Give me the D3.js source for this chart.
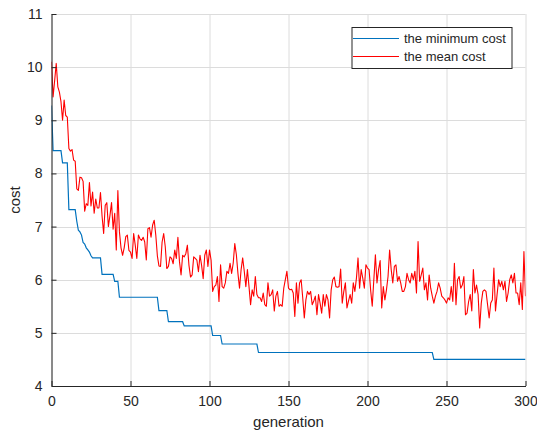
<!DOCTYPE html>
<html>
<head>
<meta charset="utf-8">
<script src="https://cdn.jsdelivr.net/npm/d3@7"></script>
<style>
  body { margin: 0; background: #fff; }
  svg { display: block; font-family: "Liberation Sans", Arial, Helvetica, sans-serif; }
  .grid line { stroke: #dcdcdc; stroke-width: 1; }
  .axis path, .axis line { stroke: #262626; }
  .axis text { fill: #262626; font-size: 14px; }
</style>
</head>
<body>
<svg id="chart" width="537" height="436"></svg>
<script>
// minimum cost: generation / value at each step of the staircase
var minGen  = [0, 1, 6, 7, 10, 11, 15, 16, 17, 18, 19, 20, 21, 22, 23, 24, 25, 26, 31, 32, 39, 40, 42, 43, 67, 68, 73, 74, 83, 84, 101, 102, 107, 108, 130, 131, 241, 242, 300];
var minCost = [9.28, 8.43, 8.43, 8.20, 8.20, 7.32, 7.32, 7.10, 6.93, 6.90, 6.84, 6.70, 6.67, 6.60, 6.56, 6.52, 6.45, 6.41, 6.41, 6.10, 6.10, 5.97, 5.97, 5.67, 5.67, 5.42, 5.42, 5.21, 5.21, 5.13, 5.13, 4.95, 4.95, 4.79, 4.79, 4.63, 4.63, 4.50, 4.50];

// mean cost, one value per generation 0..300
var meanCost = [
  10.10, 9.44, 9.75, 10.07, 9.63, 9.53, 9.35, 9.00, 9.38, 9.09,
  9.06, 8.47, 8.42, 8.45, 8.25, 8.23, 7.71, 7.68, 7.93, 7.92,
  7.85, 7.29, 7.43, 7.40, 7.83, 7.39, 7.65, 7.25, 7.52, 7.35,
  7.35, 7.64, 7.20, 6.87, 7.40, 7.45, 7.00, 7.21, 7.45, 6.95,
  7.25, 6.56, 7.68, 6.90, 6.60, 6.46, 6.60, 6.81, 6.84, 6.55,
  6.52, 6.40, 6.87, 6.65, 6.40, 6.84, 6.77, 6.74, 6.80, 6.71,
  6.37, 6.96, 6.98, 6.80, 7.03, 7.12, 6.84, 6.45, 6.26, 6.25,
  6.71, 6.87, 6.62, 6.21, 6.25, 6.43, 6.40, 6.30, 6.56, 6.40,
  6.80, 6.34, 6.09, 6.46, 6.43, 6.49, 6.65, 6.27, 6.05, 6.09,
  6.43, 6.40, 6.37, 6.15, 6.46, 6.27, 6.02, 6.46, 6.56, 6.25,
  6.56, 6.37, 5.78, 5.87, 5.90, 6.06, 5.59, 6.28, 5.87, 5.84,
  5.94, 6.16, 6.12, 6.31, 6.12, 6.31, 6.68, 6.47, 6.12, 5.84,
  6.19, 6.41, 6.16, 5.87, 6.19, 5.87, 5.53, 5.81, 5.69, 6.06,
  5.72, 5.66, 5.66, 5.59, 5.75, 5.53, 5.50, 5.94, 5.69, 5.72,
  5.81, 5.41, 5.69, 5.78, 5.50, 5.53, 5.50, 5.84, 6.00, 6.16,
  5.84, 5.81, 5.82, 5.75, 5.31, 5.94, 5.56, 5.94, 6.00, 5.66,
  5.28, 5.62, 5.78, 5.72, 5.78, 5.53, 5.60, 5.69, 5.34, 5.72,
  5.56, 5.37, 5.72, 5.50, 5.72, 5.62, 5.28, 5.81, 6.00, 6.05,
  5.87, 5.86, 5.87, 6.20, 5.56, 5.78, 5.94, 5.47, 5.60, 5.72,
  5.56, 5.94, 5.78, 6.03, 6.41, 5.84, 6.19, 6.03, 5.84, 6.28,
  6.22, 6.19, 5.80, 5.50, 6.00, 6.47, 5.94, 6.19, 6.36, 5.47,
  5.87, 5.62, 5.81, 6.06, 6.56, 6.19, 5.94, 6.25, 6.28, 5.97,
  6.06, 5.94, 5.78, 5.78, 5.87, 6.12, 6.00, 5.94, 6.12, 6.00,
  6.16, 5.75, 6.72, 5.97, 6.09, 6.22, 5.81, 5.94, 5.62, 6.09,
  5.84, 5.69, 5.56, 5.69, 5.78, 5.94, 5.84, 5.69, 5.66, 5.62,
  5.56, 5.66, 5.62, 5.87, 5.59, 6.31, 5.53, 6.00, 6.06, 5.84,
  5.90, 6.06, 5.34, 5.37, 5.59, 5.72, 5.41, 6.19, 5.75, 5.90,
  5.72, 5.09, 5.56, 5.78, 5.81, 5.78, 5.53, 5.28, 5.56, 5.62,
  6.22, 5.41, 5.72, 6.00, 5.87, 5.97, 5.81, 5.97, 5.59, 5.75,
  6.00, 6.09, 5.94, 6.12, 5.75, 5.75, 5.53, 5.94, 5.44, 6.53,
  5.69
];

var xTicks = [0, 50, 100, 150, 200, 250, 300];
var yTicks = [4, 5, 6, 7, 8, 9, 10, 11];
var seriesNames = ["the minimum cost", "the mean cost"];
var seriesColors = ["#0072BD", "#FF0000"];

var svg = d3.select("#chart"),
    margin = {top: 14, right: 11.5, bottom: 50, left: 51.5},
    width = 537 - margin.left - margin.right,
    height = 436 - margin.top - margin.bottom,
    g = svg.append("g").attr("transform", "translate(" + margin.left + "," + margin.top + ")");

var x = d3.scaleLinear().domain([0, 300]).range([0, width]),
    y = d3.scaleLinear().domain([4, 11]).range([height, 0]);

// grid
g.append("g").attr("class", "grid")
  .selectAll("line.gx").data(xTicks).enter().append("line")
    .attr("x1", function(d) { return Math.round(x(d)) + 0.5; })
    .attr("x2", function(d) { return Math.round(x(d)) + 0.5; })
    .attr("y1", 0).attr("y2", height);
g.select(".grid")
  .selectAll("line.gy").data(yTicks).enter().append("line")
    .attr("y1", function(d) { return Math.round(y(d)) + 0.5; })
    .attr("y2", function(d) { return Math.round(y(d)) + 0.5; })
    .attr("x1", 0).attr("x2", width);

svg.append("clipPath").attr("id", "clip")
  .append("rect").attr("width", width).attr("height", height);

var plot = g.append("g").attr("clip-path", "url(#clip)");

var line = d3.line()
  .x(function(d) { return x(d[0]); })
  .y(function(d) { return y(d[1]); });

plot.append("path")
  .datum(minGen.map(function(gen, i) { return [gen, minCost[i]]; }))
  .attr("fill", "none")
  .attr("stroke", seriesColors[0])
  .attr("stroke-width", 1.2)
  .attr("d", line);

plot.append("path")
  .datum(meanCost.map(function(v, i) { return [i, v]; }))
  .attr("fill", "none")
  .attr("stroke", seriesColors[1])
  .attr("stroke-width", 1.1)
  .attr("stroke-linejoin", "round")
  .attr("d", line);

// axes, ticks pointing inward like matlab
g.append("g")
  .attr("class", "axis")
  .attr("transform", "translate(0," + height + ")")
  .call(d3.axisBottom(x).tickValues(xTicks).tickFormat(d3.format("d"))
    .tickSizeInner(-5).tickSizeOuter(0).tickPadding(10));
g.append("g")
  .attr("class", "axis")
  .call(d3.axisLeft(y).tickValues(yTicks).tickFormat(d3.format("d"))
    .tickSizeInner(-5).tickSizeOuter(0).tickPadding(9));

svg.append("text")
  .attr("x", margin.left + width / 2)
  .attr("y", 427)
  .attr("text-anchor", "middle")
  .style("font-size", "15px")
  .style("fill", "#262626")
  .text("generation");

svg.append("text")
  .attr("transform", "translate(20," + (margin.top + height / 2) + ") rotate(-90)")
  .attr("text-anchor", "middle")
  .style("font-size", "15px")
  .style("fill", "#262626")
  .text("cost");

// legend
var legend = svg.append("g").attr("transform", "translate(352,27.5)");
legend.append("rect")
  .attr("width", 160).attr("height", 41)
  .attr("fill", "#fff").attr("stroke", "#262626").attr("stroke-width", 1);
var item = legend.selectAll(".legend").data(seriesNames).enter().append("g")
  .attr("class", "legend")
  .attr("transform", function(d, i) { return "translate(0," + (11 + i * 18) + ")"; });
item.append("line")
  .attr("x1", 1).attr("x2", 47)
  .attr("stroke", function(d, i) { return seriesColors[i]; })
  .attr("stroke-width", 1.2);
item.append("text")
  .attr("x", 52).attr("dy", "0.35em")
  .style("font-size", "13px")
  .style("fill", "#262626")
  .text(function(d) { return d; });
</script>
</body>
</html>
